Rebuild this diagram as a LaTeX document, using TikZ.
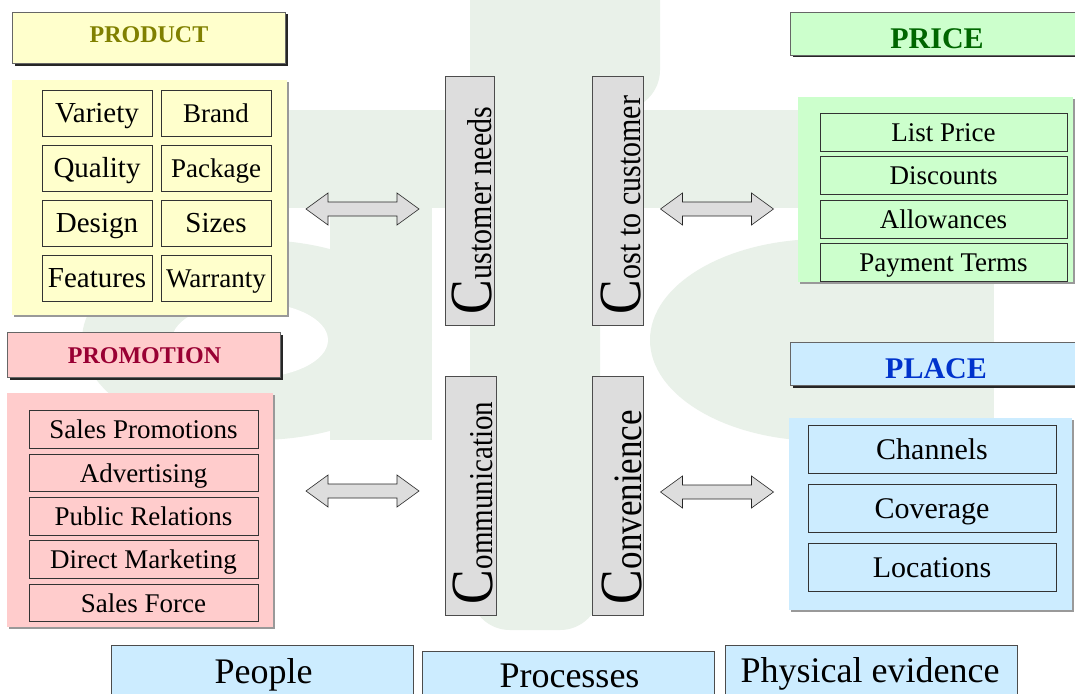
\documentclass[tikz,border=0pt]{standalone}
\usepackage{fontspec}
\usepackage{graphicx}
\setmainfont{Liberation Serif}
\usetikzlibrary{shadows}
\definecolor{wm}{RGB}{233,241,233}
\definecolor{yel}{RGB}{255,255,204}
\definecolor{grn}{RGB}{204,255,204}
\definecolor{pnk}{RGB}{255,204,204}
\definecolor{blu}{RGB}{204,236,255}
\definecolor{cgray}{RGB}{221,221,221}
\definecolor{olivet}{RGB}{128,128,0}
\definecolor{greent}{RGB}{0,102,0}
\definecolor{redt}{RGB}{153,0,51}
\definecolor{bluet}{RGB}{0,51,204}
\newcommand\pstrut{\rule[-0.216em]{0pt}{1.107em}}
\newcommand\fs[1]{\fontsize{#1}{#1}\selectfont}
\tikzset{
  dblarrow/.pic={\draw[black!85, line width=0.6pt, fill=cgray]
    (-56.5,0) -- (-34.5,-16) -- (-34.5,-7) -- (34.5,-7) -- (34.5,-16) -- (56.5,0)
    -- (34.5,16) -- (34.5,7) -- (-34.5,7) -- (-34.5,16) -- cycle;}
}
\begin{document}
\begin{tikzpicture}[x=1pt,y=-1pt,
  every node/.style={inner sep=0pt, outer sep=0pt},
  hdr/.style={draw=black!60, line width=0.6pt,
    drop shadow={shadow xshift=2.5pt, shadow yshift=-2.5pt, fill=black!85, opacity=1}},
  panel/.style={drop shadow={shadow xshift=2pt, shadow yshift=-2pt, fill=black!40, opacity=1}},
  cell/.style={draw=black!80, line width=0.6pt},
  cbox/.style={draw=black!70, fill=cgray, line width=0.6pt},
  ctext/.style={rotate=90, anchor=base west},
  hdrtext/.style={anchor=base},
  botbox/.style={draw=black!70, fill=blu, line width=0.6pt},
  bottext/.style={anchor=base, font={\fs{36}}},
]
\useasboundingbox (0,0) rectangle (1075,693);
\clip (0,0) rectangle (1075,693);
\fill[white] (0,0) rectangle (1075,693);

% watermark
\fill[wm] (100,110) rectangle (1000,208);
\fill[wm, rounded corners=40pt] (470,630) -- (470,-60) -- (660,-60) -- (660,110) -- (600,110) -- (600,630) -- cycle;
\fill[wm] (330,110) rectangle (432,440);
\fill[wm] (257,340) ellipse [x radius=175, y radius=100];
\fill[white] (250,340) ellipse [x radius=78, y radius=38];
\fill[wm] (900,110) rectangle (994,440);
\fill[wm] (822,340) ellipse [x radius=172, y radius=101];

% headers
\node[hdr, fill=yel, minimum width=273, minimum height=51] (prodhdr) at (148.5,37.5) {};
\node[hdrtext, font={\fs{24}\bfseries}, text=olivet] (prodlbl) at (149,42) {PRODUCT};
\node[hdr, fill=grn, minimum width=295, minimum height=43] (pricehdr) at (937.5,33.5) {};
\node[hdrtext, font={\fs{30}\bfseries}, text=greent] (pricelbl) at (937,48.3) {PRICE};
\node[hdr, fill=pnk, minimum width=273, minimum height=45] (promohdr) at (143.5,354.5) {};
\node[hdrtext, font={\fs{24}\bfseries}, text=redt] (promolbl) at (144.5,363.3) {PROMOTION};
\node[hdr, fill=blu, minimum width=295, minimum height=43] (placehdr) at (937.5,363.5) {};
\node[hdrtext, font={\fs{30}\bfseries}, text=bluet] (placelbl) at (936,378.3) {PLACE};

% panels
\node[panel, fill=yel, minimum width=275, minimum height=235] (prodpanel) at (149.5,197.5) {};
\node[panel, fill=grn, minimum width=275, minimum height=185] (pricepanel) at (935.5,189.5) {};
\node[panel, fill=pnk, minimum width=266, minimum height=234] (promopanel) at (140,510) {};
\node[panel, fill=blu, minimum width=283, minimum height=192] (placepanel) at (930.5,514) {};

% product cells
\tikzset{pa/.style={cell, fill=yel, minimum width=110, minimum height=46, font={\fs{29}}},
         pb/.style={cell, fill=yel, minimum width=110, minimum height=46, font={\fs{27}}}}
\node[pa] (variety) at (97,113) {\pstrut Variety};
\node[pa] (quality) at (97,168) {\pstrut Quality};
\node[pa] (design) at (97,223) {\pstrut Design};
\node[pa] (features) at (97,278) {\pstrut Features};
\node[pb] (brand) at (216,113) {\pstrut Brand};
\node[pb] (package) at (216,168) {\pstrut Package};
\node[pb, font={\fs{29}}] (sizes) at (216,223) {\pstrut Sizes};
\node[pb] (warranty) at (216,278) {\pstrut Warranty};

% price cells
\tikzset{pr/.style={cell, fill=grn, minimum width=247, minimum height=38, font={\fs{27}}}}
\node[pr] (listprice) at (943.5,132) {\pstrut List Price};
\node[pr] (discounts) at (943.5,175.5) {\pstrut Discounts};
\node[pr] (allowances) at (943.5,219) {\pstrut Allowances};
\node[pr] (payterms) at (943.5,262.5) {\pstrut Payment Terms};

% promotion cells
\tikzset{pm/.style={cell, fill=pnk, minimum width=229, minimum height=37.5, font={\fs{27}}}}
\node[pm] (salesprom) at (143.5,429.5) {\pstrut Sales Promotions};
\node[pm] (advert) at (143.5,473) {\pstrut Advertising};
\node[pm] (pubrel) at (143.5,516.5) {\pstrut Public Relations};
\node[pm] (directmk) at (143.5,559.5) {\pstrut Direct Marketing};
\node[pm] (salesforce) at (143.5,603) {\pstrut Sales Force};

% place cells
\tikzset{pl/.style={cell, fill=blu, minimum width=248, minimum height=48, font={\fs{30}}}}
\node[pl] (channels) at (932,449.5) {\pstrut Channels};
\node[pl] (coverage) at (932,508.5) {\pstrut Coverage};
\node[pl] (locations) at (932,567.5) {\pstrut Locations};

% C boxes
\node[cbox, minimum width=49, minimum height=249] (cneeds) at (469.5,200.5) {};
\node[cbox, minimum width=51, minimum height=249] (ccost) at (617.5,200.5) {};
\node[cbox, minimum width=51, minimum height=239] (ccomm) at (470.5,495.5) {};
\node[cbox, minimum width=51, minimum height=239] (cconv) at (617.5,495.5) {};
\node[ctext] (cneedslbl) at (491,314) {\scalebox{1}[1.15]{\fs{52}C\fs{30}ustomer needs}};
\node[ctext] (ccostlbl) at (640,314) {\scalebox{1}[1.15]{\fs{52}C\fs{30}ost to customer}};
\node[ctext] (ccommlbl) at (492,604) {\scalebox{1}[1.15]{\fs{52}C\fs{29}ommunication}};
\node[ctext] (cconvlbl) at (641,604) {\scalebox{1}[1.15]{\fs{52}C\fs{35}onvenience}};

% arrows
\coordinate (arrpl) at (362.5,209);
\coordinate (arrpr) at (717,209);
\coordinate (arrml) at (362.5,491);
\coordinate (arrmr) at (717,492);
\pic at (arrpl) {dblarrow};
\pic at (arrpr) {dblarrow};
\pic at (arrml) {dblarrow};
\pic at (arrmr) {dblarrow};

% bottom boxes
\node[botbox, minimum width=302, minimum height=55] (people) at (262,672.5) {};
\node[botbox, minimum width=292, minimum height=49] (processes) at (568,675.5) {};
\node[botbox, minimum width=292, minimum height=55] (physical) at (871,672.5) {};
\node[bottext] (peoplelbl) at (263.5,683) {People};
\node[bottext] (processeslbl) at (569.5,687) {Processes};
\node[bottext] (physicallbl) at (870,682) {Physical evidence};
\end{tikzpicture}
\end{document}
